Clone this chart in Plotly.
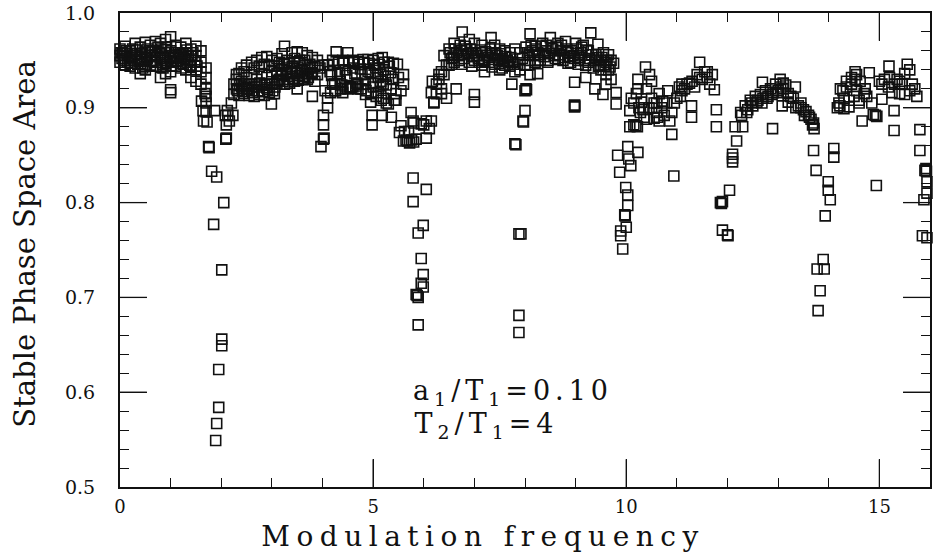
import plotly.graph_objects as go

freq_hump1 = [
 0,0,0,0.1,0.1,0.1,0.2,0.2,0.2,0.3,0.3,0.3,0.4,0.4,0.4,0.5,0.5,0.5,0.6,0.6,0.6,
 0.7,0.7,0.7,0.8,0.8,0.8,0.9,0.9,0.9,0.9,1.0,1.0,1.0,1.0,1.0,1.0,1.1,1.1,1.1,
 1.2,1.2,1.2,1.3,1.3,1.3,1.4,1.4,1.4,1.4,1.5,1.5,1.5,1.5,1.6,1.6,1.6,1.6,
 1.7,1.7,1.7,1.7,1.7,0.05,0.15,0.25,0.35,0.45,0.55,0.65,0.75,0.85,1.05,1.15,1.25,1.35]
area_hump1 = [
 .962,.955,.948,.965,.952,.945,.960,.950,.944,.968,.957,.942,.964,.951,.936,.969,.958,.940,.966,.955,.945,
 .970,.960,.948,.968,.952,.932,.972,.958,.944,.936,.975,.960,.948,.938,.919,.916,.966,.955,.944,
 .964,.952,.942,.968,.958,.940,.962,.950,.944,.932,.965,.955,.940,.928,.960,.948,.938,.925,
 .942,.932,.920,.912,.905,.958,.948,.962,.946,.942,.962,.950,.964,.942,.953,.958,.946,.954]

freq_fill1 = [0.02,0.08,0.12,0.18,0.22,0.28,0.32,0.38,0.42,0.48,0.52,0.58,0.62,0.68,0.72,0.78,0.82,0.88,0.92,0.98,1.02,1.08,1.12,1.18,1.22,1.28,1.32,1.38,1.42,1.48,
              0.04,0.14,0.24,0.34,0.44,0.54,0.64,0.74,0.84,0.94,1.04,1.14,1.24,1.34,1.44,1.52]
area_fill1 = [.958,.950,.960,.953,.947,.955,.961,.949,.957,.944,.953,.960,.949,.956,.944,.958,.962,.950,.964,.952,.944,.958,.949,.956,.947,.952,.961,.945,.955,.948,
              .952,.957,.955,.950,.946,.952,.959,.954,.946,.948,.955,.950,.958,.948,.958,.944]

freq_dip2 = [1.61,1.64,1.65,1.87,2.1,2.13,2.23,2.08,2.12,1.75,1.76,2.09,2.1,1.81,1.91,2.05,1.85,2.01,2.01,2.01,1.95,1.95,1.91,1.89,1.7,1.72,1.68,2.2,2.16]
area_dip2 = [.907,.897,.886,.897,.882,.892,.892,.892,.897,.859,.858,.867,.868,.833,.827,.800,.777,.729,.656,.649,.624,.584,.567,.549,.896,.885,.915,.905,.886]

freq_hump2 = [
 2.3,2.4,2.5,2.6,2.7,2.8,2.9,3.0,3.1,3.2,3.25,3.4,3.5,3.6,3.7,3.8,3.9,4.0,
 2.25,2.35,2.45,2.55,2.65,2.75,2.85,2.95,3.05,3.15,3.3,3.45,3.55,3.65,3.75,3.85,3.95,
 2.3,2.4,2.5,2.6,2.7,2.8,2.9,3.0,3.1,3.2,3.3,3.4,3.5,3.6,3.7,3.8,3.9,
 2.25,2.35,2.45,2.55,2.65,2.75,2.85,2.95,3.05,2.99,3.8,3.5,3.85,3.15,3.25,3.35,3.45,3.6,3.7,
 2.3,2.5,2.7,2.9,3.0,3.2,3.3,3.4,3.55,3.65,2.4,2.6,2.8,3.1]
area_hump2 = [
 .930,.942,.945,.948,.950,.953,.954,.950,.952,.957,.965,.958,.959,.958,.955,.953,.950,.945,
 .925,.936,.938,.925,.942,.944,.946,.945,.944,.948,.950,.952,.950,.950,.946,.944,.942,
 .935,.928,.932,.935,.930,.936,.932,.938,.936,.940,.942,.944,.943,.940,.941,.936,.935,
 .914,.913,.915,.913,.912,.914,.913,.916,.915,.904,.912,.920,.928,.930,.925,.926,.928,.930,.930,
 .920,.920,.922,.921,.925,.934,.933,.936,.934,.933,.922,.918,.924,.926]

freq_fill2 = [2.32,2.42,2.52,2.62,2.72,2.82,2.92,3.02,2.36,2.46,2.56,2.66,2.76,2.86,2.96,3.06,
              3.12,3.22,3.32,3.42,3.52,3.62,3.72,3.18,3.28,3.38,3.48,3.58,3.68,3.78,3.14,3.24,3.34,3.44,3.54,3.64,3.74]
area_fill2 = [.918,.917,.919,.916,.918,.917,.919,.918,.924,.923,.925,.922,.926,.924,.925,.922,
              .929,.928,.930,.931,.929,.930,.932,.936,.937,.938,.937,.939,.936,.937,.944,.946,.947,.948,.947,.945,.942]

freq_hump3 = [
 4.1,4.27,4.5,4.6,4.8,4.9,5.0,5.18,5.3,5.48,4.2,4.4,4.7,5.1,5.4,5.6,
 4.15,4.3,4.45,4.6,4.75,4.9,5.05,5.2,5.35,5.5,5.6,
 4.05,4.2,4.35,4.5,4.6,4.7,4.85,5.0,5.1,5.2,5.26,5.35,5.45,5.55,
 4.1,4.25,4.4,4.55,4.7,4.85,4.95,5.1,5.2,5.3,5.42,5.15,
 3.97,4.02,4.03,4.02,4.02,4.1,4.98,4.98,5.18,5.36,5.55,5.52,5.79,
 5.6,5.65,5.68,5.72,5.76,5.8,5.85,6.05,6.11,6.15,6.2,6.15,6.17,5.7,5.62,5.45,
 5.79,6.05,5.79,5.99,5.89,5.95,5.99,5.95,5.99,5.85,5.89,5.89,5.87,
 5.75,5.8,5.95,6.0,6.05]
area_hump3 = [
 .945,.959,.958,.950,.951,.951,.950,.953,.948,.946,.950,.950,.949,.952,.947,.935,
 .938,.936,.940,.942,.941,.938,.942,.940,.937,.932,.925,
 .918,.925,.928,.920,.922,.925,.930,.926,.932,.925,.924,.920,.915,.918,
 .910,.918,.916,.922,.920,.914,.906,.916,.910,.904,.908,.928,
 .859,.867,.868,.882,.892,.900,.892,.882,.892,.890,.881,.874,.886,
 .865,.866,.865,.863,.866,.864,.867,.868,.878,.886,.906,.916,.928,.875,.875,.908,
 .826,.814,.801,.776,.768,.741,.724,.715,.711,.703,.700,.671,.702,
 .895,.884,.883,.882,.886]

freq_fill3 = [4.12,4.22,4.32,4.42,4.52,4.62,4.72,4.82,4.92,5.02,5.12,5.22,5.32,4.16,4.26,4.36,4.46,4.56,4.66,4.76,4.86,4.96,5.06,5.16,5.26,
              4.18,4.34,4.48,4.64,4.78,4.94,5.08,5.24,5.38,4.24,4.38,4.54,4.68,4.84,5.0,5.14]
area_fill3 = [.945,.946,.948,.947,.949,.948,.946,.948,.947,.945,.946,.948,.944,.916,.918,.920,.922,.921,.923,.920,.918,.915,.912,.908,.905,
              .934,.936,.934,.936,.935,.937,.936,.933,.930,.925,.924,.922,.926,.925,.922,.923]

freq_hump4 = [
 6.3,6.4,6.5,6.6,6.76,6.9,7.0,7.15,7.33,7.4,7.5,7.6,7.7,7.8,7.9,8.1,8.2,8.35,8.5,8.65,8.8,9.0,9.15,9.3,9.44,9.55,9.65,
 6.25,6.35,6.45,6.55,6.65,6.75,6.85,6.95,7.05,7.15,7.25,7.35,7.45,7.55,7.65,7.75,7.85,7.95,8.05,8.15,8.25,8.4,8.55,8.7,8.85,8.95,9.1,9.25,9.4,9.5,9.6,9.7,9.75,
 6.3,6.4,6.5,6.6,6.7,6.8,6.9,7.0,7.1,7.2,7.3,7.4,7.5,7.6,7.7,7.8,7.9,8.0,8.1,8.2,8.3,8.45,8.6,8.75,8.9,9.05,9.2,9.35,9.5,9.6,
 6.35,6.64,7.0,7.0,7.74,7.8,7.82,7.92,7.88,7.88,7.88,8.0,7.96,7.97,8.02,8.03,8.0,8.98,8.98,8.98,8.1,8.98,9.38,9.8,9.8,9.54,9.2,9.6,9.7,8.25,7.2,7.5,
 6.2,6.25,6.35,6.45]
area_hump4 = [
 .935,.955,.962,.968,.980,.972,.968,.966,.974,.966,.962,.960,.958,.962,.958,.978,.965,.968,.974,.968,.970,.968,.966,.979,.967,.958,.956,
 .925,.938,.945,.952,.958,.960,.962,.958,.955,.958,.955,.957,.955,.952,.950,.948,.946,.952,.958,.960,.958,.960,.962,.960,.958,.955,.958,.960,.956,.950,.948,.950,.947,
 .930,.935,.945,.948,.950,.952,.948,.950,.948,.950,.948,.946,.947,.945,.944,.938,.940,.945,.950,.948,.950,.950,.952,.950,.948,.950,.945,.942,.940,.935,
 .915,.920,.914,.906,.925,.862,.861,.767,.767,.681,.663,.897,.886,.885,.920,.919,.918,.902,.901,.903,.935,.927,.920,.904,.916,.914,.932,.925,.930,.936,.938,.940,
 .905,.915,.920,.910]

freq_fill4 = [6.52,6.62,6.72,6.82,6.92,7.02,7.12,7.22,7.32,7.42,7.52,7.62,7.72,8.02,8.12,8.22,8.32,8.42,8.52,8.62,8.72,8.82,8.92,9.02,9.12,9.22,9.32,9.42,9.52,9.62,
              6.58,6.68,6.78,6.88,6.98,7.08,7.18,7.28,7.38,7.48,7.58,7.68,7.78,8.08,8.18,8.28,8.38,8.48,8.58,8.68,8.78,8.88,8.98,9.08,9.18,9.28,9.38,9.48,9.58,9.68,
              6.55,6.75,6.95,7.15,7.35,7.55,8.05,8.25,8.45,8.65,8.85,9.05,9.25,9.45,9.65]
area_fill4 = [.958,.962,.966,.965,.962,.958,.961,.959,.962,.958,.957,.954,.953,.964,.966,.962,.965,.966,.963,.964,.966,.962,.960,.962,.964,.961,.956,.953,.953,.950,
              .953,.955,.956,.957,.954,.952,.951,.953,.951,.950,.949,.948,.946,.956,.955,.956,.954,.957,.955,.956,.953,.954,.952,.953,.950,.952,.950,.945,.944,.943,
              .946,.946,.944,.945,.943,.942,.945,.950,.948,.951,.947,.946,.948,.944,.940]

freq_hump5 = [
 10.03,10.23,9.83,10.05,10.09,9.87,9.99,10.03,10.03,9.97,9.98,10.0,9.89,9.89,9.93,
 10.07,10.38,10.46,10.5,10.23,10.23,10.33,10.35,10.28,10.19,10.15,10.22,10.07,10.65,10.86,10.9,10.94,10.6,10.72,10.82,
 11.05,11.07,11.29,11.29,11.45,11.25,11.15,11.45,11.5,11.6,11.65,11.74,11.78,11.78,12.04,12.1,12.1,12.1,11.86,11.88,11.9,11.9,12.0,12.01,
 10.4,10.5,10.45,10.55,10.6,10.7,10.8,10.9,11.0,11.1,11.2,11.3,11.35,11.4,11.55,11.6,11.7,
 10.1,10.2,10.3,10.15,10.35,10.25,10.4,10.62,10.75,10.95,11.1,10.55,10.65]
area_hump5 = [
 .859,.853,.850,.846,.839,.832,.816,.808,.797,.787,.786,.774,.770,.765,.751,
 .897,.943,.935,.928,.930,.920,.898,.900,.895,.881,.882,.880,.880,.886,.886,.872,.828,.905,.907,.918,
 .922,.912,.902,.890,.948,.926,.920,.932,.930,.938,.925,.919,.898,.880,.813,.851,.847,.843,.800,.799,.801,.771,.766,.765,
 .920,.910,.900,.905,.895,.900,.905,.895,.910,.918,.925,.928,.922,.935,.938,.932,.935,
 .910,.915,.906,.905,.890,.900,.888,.890,.892,.905,.925,.889,.915]

freq_hump6 = [
 12.26,12.15,12.3,12.18,12.35,12.45,12.55,12.65,12.69,12.75,12.85,12.95,13.04,13.1,13.2,13.34,12.89,13.08,
 12.4,12.5,12.6,12.7,12.8,12.9,13.0,13.1,13.15,13.25,13.3,13.4,13.45,13.5,13.55,13.6,13.65,13.7,13.71,
 12.28,12.38,12.48,12.58,12.68,12.78,12.88,12.98,13.05,13.2,13.35,13.45,13.52,13.62,13.68,
 13.7,14.1,14.1,13.75,13.99,13.99,14.03,13.93,13.89,13.77,13.91,13.83,13.79]
area_hump6 = [
 .895,.880,.880,.865,.902,.908,.912,.914,.927,.918,.920,.925,.930,.926,.915,.922,.878,.902,
 .898,.902,.908,.910,.912,.916,.918,.920,.924,.912,.910,.902,.905,.898,.896,.892,.888,.884,.878,
 .892,.895,.905,.906,.905,.910,.914,.916,.922,.906,.900,.900,.892,.890,.882,
 .855,.857,.848,.834,.822,.813,.803,.786,.740,.730,.730,.707,.686]

freq_hump7 = [
 14.17,14.22,14.3,14.4,14.23,14.28,14.35,14.52,14.52,14.45,14.55,14.6,14.8,14.72,14.66,14.92,14.95,14.88,15.05,14.94,
 14.2,14.3,14.4,14.5,14.6,14.7,14.75,14.85,14.35,14.45,14.55,14.62,
 15.29,15.29,15.19,15.55,15.0,15.05,15.1,15.2,15.3,15.35,15.4,15.5,15.6,15.65,15.7,15.18,15.25,15.4,15.5,15.6,
 15.74,15.8,15.8,15.9,15.92,15.93,15.94,15.94,15.88,15.85,15.94,15.45]
area_hump7 = [
 .900,.902,.899,.901,.920,.918,.922,.938,.930,.925,.918,.908,.937,.920,.886,.892,.891,.893,.909,.818,
 .905,.910,.908,.912,.905,.915,.912,.905,.928,.932,.935,.928,
 .897,.876,.944,.946,.928,.925,.930,.932,.925,.930,.928,.936,.940,.925,.920,.922,.916,.915,.914,.918,
 .912,.877,.855,.834,.836,.833,.822,.810,.803,.765,.763,.925]

x_major = [5, 10, 15]
y_major = [0.6, 0.7, 0.8, 0.9]
x_title = "Modulation frequency"
y_title = "Stable Phase Space Area"
note_1 = "a<sub>1</sub>/T<sub>1</sub>=0.10"
note_2 = "T<sub>2</sub>/T<sub>1</sub>=4"

freq = (freq_hump1 + freq_fill1 + freq_dip2 + freq_hump2 + freq_fill2 + freq_hump3 + freq_fill3
        + freq_hump4 + freq_fill4 + freq_hump5 + freq_hump6 + freq_hump7)
area = (area_hump1 + area_fill1 + area_dip2 + area_hump2 + area_fill2 + area_hump3 + area_fill3
        + area_hump4 + area_fill4 + area_hump5 + area_hump6 + area_hump7)

FONT = "DejaVu Serif"
INK = "#111111"
X_MIN, X_MAX, Y_MIN, Y_MAX = 0, 16, 0.5, 1.0
TICK_IN_Y = 0.0292
TICK_IN_X = 0.532

fig = go.Figure()

# Long inside tick marks at each labelled value, on all four sides of the frame.
tick_x, tick_y = [], []
for v in x_major:
    tick_x += [v, v, None, v, v, None]
    tick_y += [Y_MIN, Y_MIN + TICK_IN_Y, None, Y_MAX - TICK_IN_Y, Y_MAX, None]
for v in y_major:
    tick_x += [X_MIN, X_MIN + TICK_IN_X, None, X_MAX - TICK_IN_X, X_MAX, None]
    tick_y += [v, v, None, v, v, None]
fig.add_trace(go.Scatter(x=tick_x, y=tick_y, mode="lines", line=dict(color=INK, width=1.3),
                         hoverinfo="skip", showlegend=False))

fig.add_trace(go.Scatter(
    x=freq, y=area, mode="markers", cliponaxis=False,
    marker=dict(symbol="square-open", size=10, color=INK, line=dict(width=1.6, color=INK)),
    showlegend=False,
))

axis_common = dict(showgrid=False, zeroline=False, showline=True, mirror="ticks",
                   linecolor=INK, linewidth=2, ticks="inside", tickcolor=INK, tickwidth=1.3,
                   ticklabeloverflow="allow")

fig.update_xaxes(range=[X_MIN, X_MAX], tickmode="linear", tick0=0, dtick=5, ticklen=28,
                 minor=dict(tickmode="linear", tick0=0, dtick=1, ticks="inside", ticklen=9, tickcolor=INK, tickwidth=1.1, showgrid=False),
                 tickfont=dict(family=FONT, size=18, color=INK),
                 title=dict(text=x_title, font=dict(family=FONT, size=28, color=INK), standoff=13),
                 **axis_common)
fig.update_yaxes(range=[Y_MIN, Y_MAX], tickmode="linear", tick0=0.5, dtick=0.1, tickformat=".1f", ticklen=27,
                 ticksuffix="\u2003",
                 minor=dict(tickmode="linear", tick0=0.5, dtick=0.02, ticks="inside", ticklen=9, tickcolor=INK, tickwidth=1.1, showgrid=False),
                 tickfont=dict(family=FONT, size=19, color=INK),
                 title=dict(text=y_title, font=dict(family=FONT, size=29, color=INK), standoff=28),
                 **axis_common)

for text, x, y in [(note_1, 6.24, 0.6), (note_2, 6.12, 0.565)]:
    fig.add_annotation(x=x, y=y, xanchor="left", yanchor="middle", text=text, showarrow=False,
                       font=dict(family=FONT, size=27, color=INK))

fig.update_layout(width=934, height=560, margin=dict(l=120, r=2, t=8, b=73),
                  paper_bgcolor="white", plot_bgcolor="white")

page_script = """
document.body.style.margin = '0';
document.documentElement.style.overflow = 'hidden';
var xt = document.querySelector('.xtitle');
if (xt) { xt.style.letterSpacing = '6.5px'; xt.setAttribute('x', '483'); }
var yt = document.querySelector('.ytitle');
if (yt) { yt.setAttribute('transform', 'translate(7,-6) ' + (yt.getAttribute('transform') || '')); }
document.querySelectorAll('.annotation-text').forEach(function (t) { t.style.letterSpacing = '5px'; });
document.querySelectorAll('.xtick text').forEach(function (t) { t.setAttribute('y', parseFloat(t.getAttribute('y')) + 2); });
"""
fig.write_html("out.html", post_script=page_script, config=dict(displayModeBar=False))
